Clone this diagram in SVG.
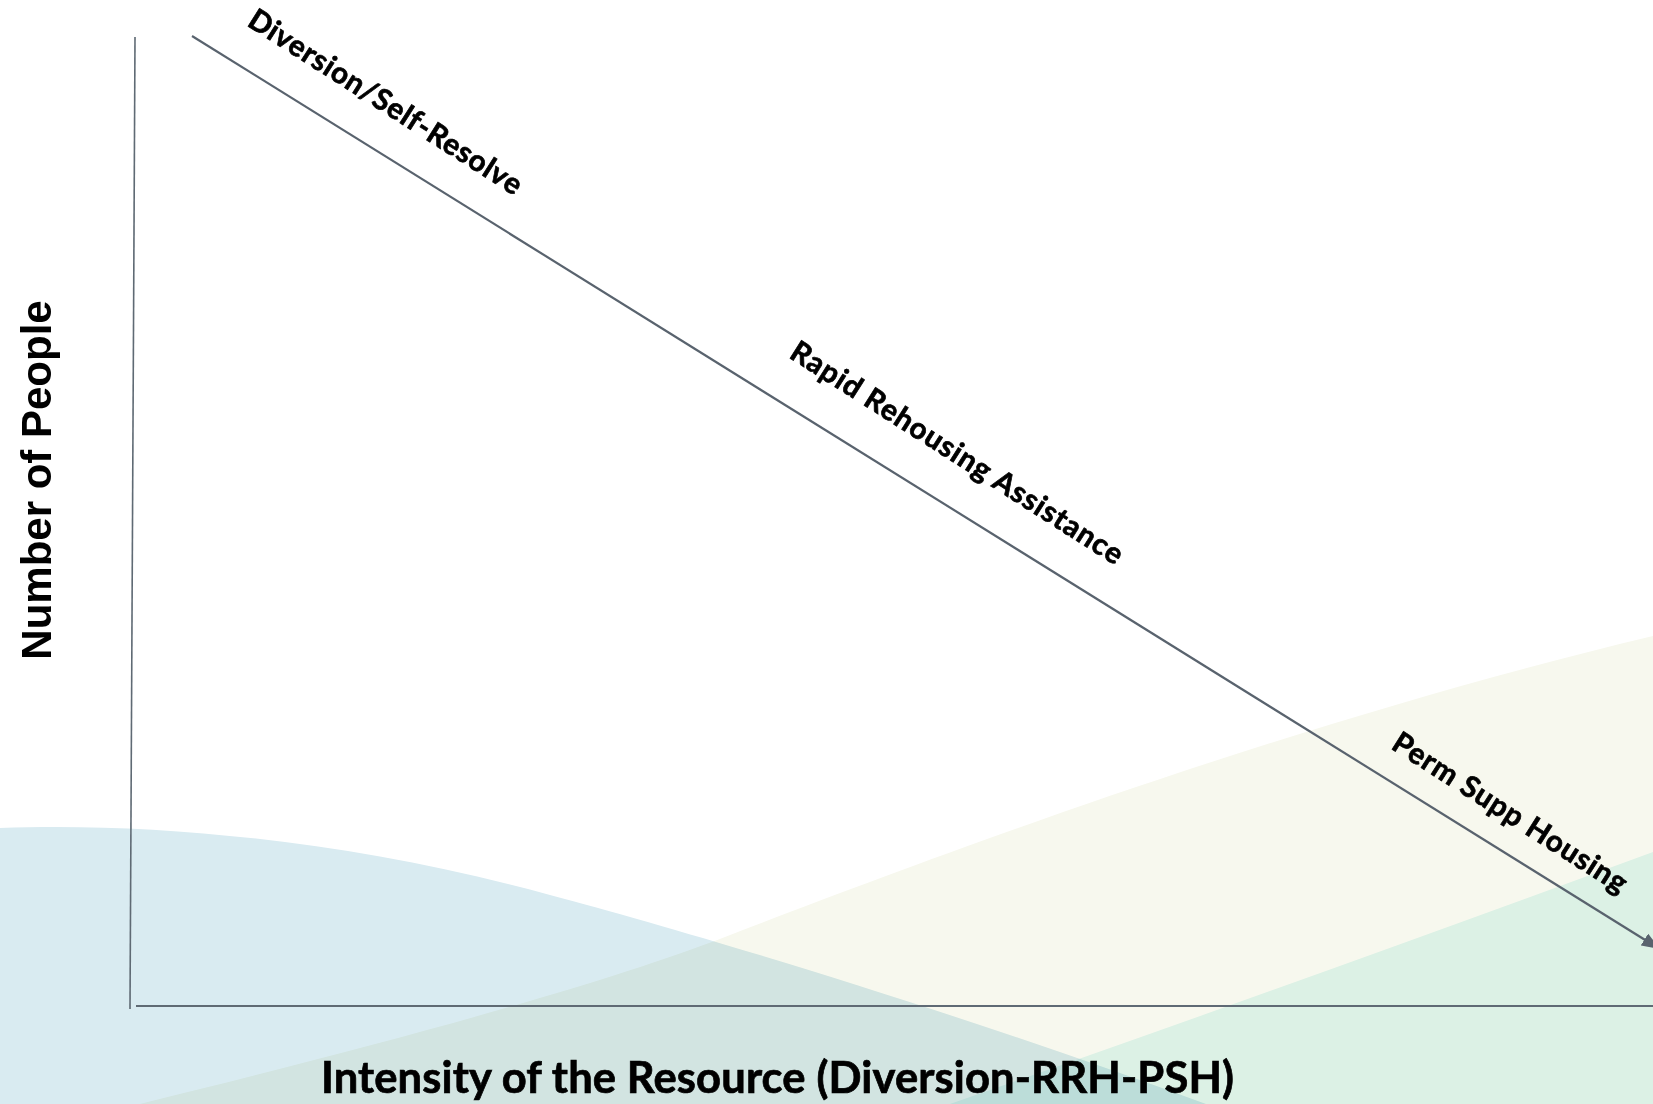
<svg xmlns="http://www.w3.org/2000/svg" width="1653" height="1104" viewBox="0 0 1653 1104">
  <style>
    .lbl { font-family: Lato, "Open Sans", "Liberation Sans", sans-serif; font-weight: 700; fill: #000; stroke: #000; stroke-width: 0.7; }
    .axis-title { font-family: "Liberation Sans", Arial, sans-serif; font-weight: 700; fill: #000; }
    .axis { stroke: #5f6a74; fill: none; }
    .diag { stroke: #59636e; stroke-width: 2.2; fill: none; }
    .blend { mix-blend-mode: multiply; }
  </style>
  <defs>
    <marker id="arrow" markerUnits="userSpaceOnUse" markerWidth="20" markerHeight="14" refX="16" refY="7" orient="auto">
      <path d="M0,0 L18,7 L0,14 z" fill="#59636e"/>
    </marker>
  </defs>

  <g id="background">
    <rect x="0" y="0" width="1653" height="1104" fill="#ffffff"/>
    <path d="M0,828 C150,822 350,840 550,895 C700,935 950,1010 1206,1104 L0,1104 Z" fill="#d9ebf1"/>
    <path class="blend" d="M140,1104 C400,1040 600,985 725,937 C950,850 1300,720 1653,636 L1653,1104 Z" fill="#f7f8ee"/>
    <path class="blend" d="M950,1104 Q1250,1000 1653,852 L1653,1104 Z" fill="#e4f8f6"/>
  </g>

  <g id="connectors">
    <line class="axis" x1="135" y1="37" x2="130" y2="1009" stroke-width="1.6"/>
    <line class="axis" x1="136" y1="1006" x2="1653" y2="1006" stroke-width="2"/>
    <line class="diag" x1="192" y1="36" x2="1658" y2="948" marker-end="url(#arrow)"/>
  </g>

  <g id="label-diversion">
    <text class="lbl" font-size="29.5" transform="translate(246,25) rotate(32.5)" textLength="318" lengthAdjust="spacing">Diversion/Self-Resolve</text>
  </g>
  <g id="label-rrh">
    <text class="lbl" font-size="29.5" transform="translate(788,357) rotate(32.5)" textLength="388" lengthAdjust="spacing">Rapid Rehousing Assistance</text>
  </g>
  <g id="label-psh">
    <text class="lbl" font-size="29.5" transform="translate(1390,748) rotate(32.5)" textLength="272" lengthAdjust="spacing">Perm Supp Housing</text>
  </g>

  <g id="y-axis-title">
    <text class="axis-title" font-size="42" text-anchor="middle" transform="translate(51,480) rotate(-90)">Number of People</text>
  </g>
  <g id="x-axis-title">
    <text class="lbl" font-size="43.5" x="321" y="1093" textLength="913" lengthAdjust="spacing">Intensity of the Resource (Diversion-RRH-PSH)</text>
  </g>
</svg>
